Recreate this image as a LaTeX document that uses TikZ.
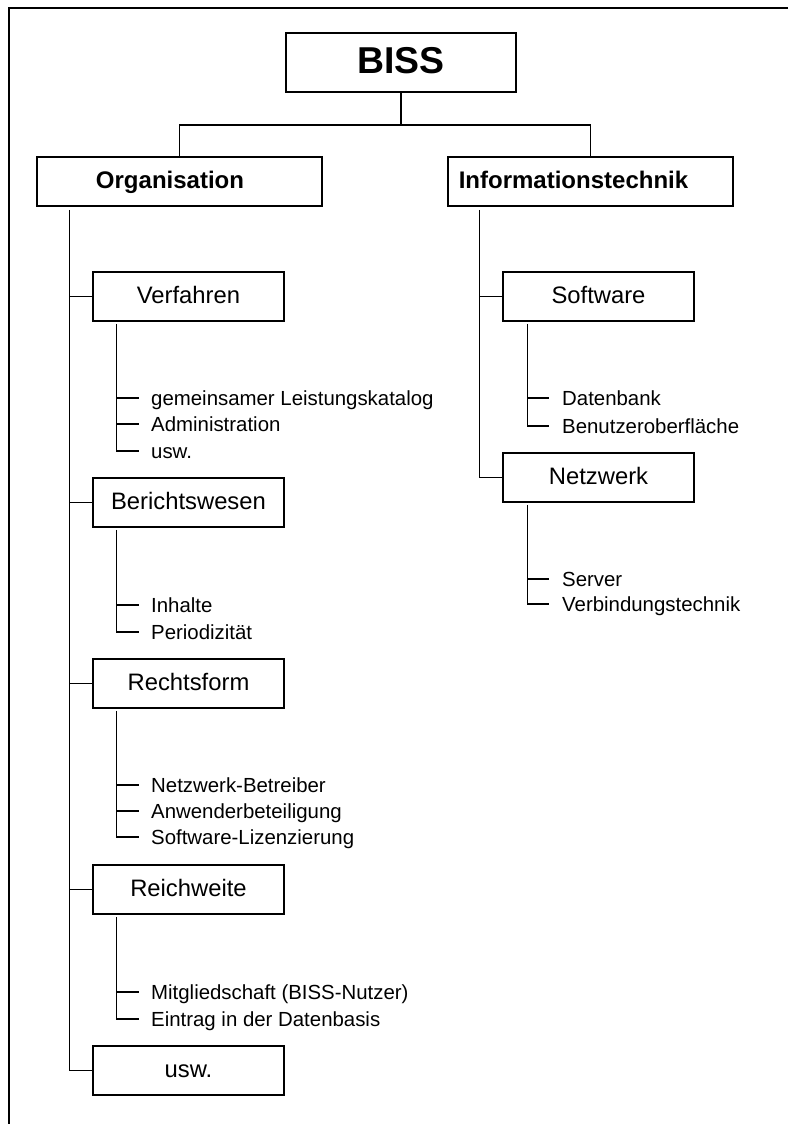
\documentclass[tikz,border=0pt]{standalone}
\usepackage{fontspec}
\setmainfont{Liberation Sans}
\begin{document}
\begin{tikzpicture}[x=1pt,y=-1pt,
  box/.style={draw,line width=1.5pt,minimum width=191pt,minimum height=49pt,inner sep=0pt,
    font=\fontsize{23.8}{28}\selectfont,text height=17pt,text depth=4pt},
  headbox/.style={box,minimum width=285pt,font=\fontsize{24}{28}\selectfont\bfseries,text height=17.2pt},
  item/.style={anchor=west,inner sep=0pt,font=\fontsize{20.4}{24}\selectfont,
    text height=14.6pt,text depth=0pt},
  link/.style={line width=1.5pt}]
\useasboundingbox (0,0) rectangle (788,1124);
% page frame
\draw[line width=2.4pt] (788,8) -- (9,8) -- (9,1124);

% top levels
\node[box,minimum width=230pt,minimum height=59pt,font=\fontsize{37.4}{44}\selectfont\bfseries,
  text height=26.8pt] (biss) at (401,62.5) {BISS};
\node[headbox] (org) at (179.5,181.5) {Organisation\hspace*{19pt}};
\node[headbox] (it) at (590.5,181.5) {Informationstechnik\hspace*{34pt}};

\coordinate (hub) at (biss.south |- 0,125);
\draw[link] (biss.south) -- (hub);
\draw[link] (org.north) |- (hub) -| (it.north);

% Organisation branch
\node[box] (verf)  at (188.5,296.5)  {Verfahren};
\node[box] (ber)   at (188.5,502.5)  {Berichtswesen};
\node[box] (recht) at (188.5,683.5)  {Rechtsform};
\node[box] (reich) at (188.5,889.5)  {Reichweite};
\node[box] (usw)   at (188.5,1070.5) {usw.};

\coordinate (otr) at ([xshift=33pt,yshift=-3pt]org.south west);
\draw[link] (otr) |- (usw.west);
\foreach \n in {verf,ber,recht,reich} \draw[link] (otr |- \n.west) -- (\n.west);

\node[item] (v1) at (151,398) {gemeinsamer Leistungskatalog};
\node[item] (v2) at (151,424) {Administration};
\node[item] (v3) at (151,451) {usw.};
\coordinate (vs) at ([xshift=24pt,yshift=-2pt]verf.south west);
\draw[link] (vs) |- ([xshift=-12pt]v3.west);
\foreach \n in {v1,v2} \draw[link] (vs |- \n.west) -- ([xshift=-12pt]\n.west);

\node[item] (b1) at (151,605) {Inhalte};
\node[item] (b2) at (151,632) {Periodizität};
\coordinate (bs) at ([xshift=24pt,yshift=-2pt]ber.south west);
\draw[link] (bs) |- ([xshift=-12pt]b2.west);
\draw[link] (bs |- b1.west) -- ([xshift=-12pt]b1.west);

\node[item] (r1) at (151,785) {Netzwerk-Betreiber};
\node[item] (r2) at (151,811) {Anwenderbeteiligung};
\node[item] (r3) at (151,837) {Software-Lizenzierung};
\coordinate (rs) at ([xshift=24pt,yshift=-2pt]recht.south west);
\draw[link] (rs) |- ([xshift=-12pt]r3.west);
\foreach \n in {r1,r2} \draw[link] (rs |- \n.west) -- ([xshift=-12pt]\n.west);

\node[item] (w1) at (151,992)  {Mitgliedschaft (BISS-Nutzer)};
\node[item] (w2) at (151,1019) {Eintrag in der Datenbasis};
\coordinate (ws) at ([xshift=24pt,yshift=-2pt]reich.south west);
\draw[link] (ws) |- ([xshift=-12pt]w2.west);
\draw[link] (ws |- w1.west) -- ([xshift=-12pt]w1.west);

% Informationstechnik branch
\node[box] (soft) at (598.5,296.5) {Software};
\node[box] (netz) at (598.5,477.5) {Netzwerk};

\coordinate (itr) at ([xshift=32pt,yshift=-3pt]it.south west);
\draw[link] (itr) |- (netz.west);
\draw[link] (itr |- soft.west) -- (soft.west);

\node[item] (s1) at (562,398) {Datenbank};
\node[item] (s2) at (562,426) {Benutzeroberfläche};
\coordinate (ss) at ([xshift=25pt,yshift=-2pt]soft.south west);
\draw[link] (ss) |- ([xshift=-13pt]s2.west);
\draw[link] (ss |- s1.west) -- ([xshift=-13pt]s1.west);

\node[item] (n1) at (562,579) {Server};
\node[item] (n2) at (562,604) {Verbindungstechnik};
\coordinate (ns) at ([xshift=25pt,yshift=-2pt]netz.south west);
\draw[link] (ns) |- ([xshift=-13pt]n2.west);
\draw[link] (ns |- n1.west) -- ([xshift=-13pt]n1.west);
\end{tikzpicture}
\end{document}
